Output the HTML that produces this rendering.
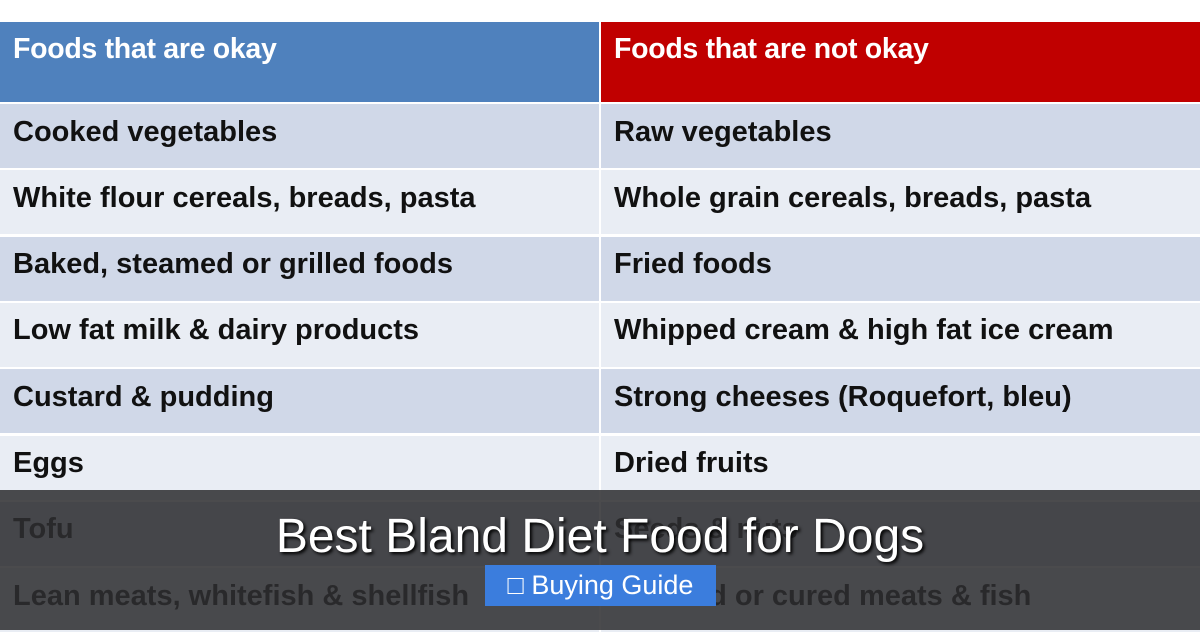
<!DOCTYPE html><html><head><style>
body{margin:0;width:1200px;height:630px;overflow:hidden;background:#fff;font-family:"Liberation Sans",sans-serif;position:relative}
.c{position:absolute;box-sizing:border-box;padding-left:13px;font-size:29px;font-weight:bold;color:#111;display:flex;align-items:center;padding-bottom:8px}
.h{color:#fff;font-weight:bold;font-size:28.5px;align-items:flex-start;padding-top:11px;letter-spacing:-0.3px}
#ov{position:absolute;left:0;top:490px;width:1200px;height:140px;background:rgba(45,45,48,0.86)}
#t{position:absolute;left:0;width:1200px;top:509px;text-align:center;color:#fff;font-size:48px;text-shadow:2px 2px 3px #000}
#b{position:absolute;left:485px;top:565px;width:231px;height:41px;background:#3b7ddd;color:#fff;font-size:27px;text-align:center;line-height:41px}
</style></head><body>
<div class="c h" style="left:0;top:22px;width:599px;height:80px;background:#4f81bd">Foods that are okay</div>
<div class="c h" style="left:601px;top:22px;width:599px;height:80px;background:#c00000">Foods that are not okay</div>
<div id="rows"></div>
<script>
var L=["Cooked vegetables","White flour cereals, breads, pasta","Baked, steamed or grilled foods","Low fat milk &amp; dairy products","Custard &amp; pudding","Eggs","Tofu","Lean meats, whitefish &amp; shellfish"];
var R=["Raw vegetables","Whole grain cereals, breads, pasta","Fried foods","Whipped cream &amp; high fat ice cream","Strong cheeses (Roquefort, bleu)","Dried fruits","Seeds &amp; nuts","Smoked or cured meats &amp; fish"];
var h="";for(var i=0;i<8;i++){var y=104+i*66.3,bg=i%2?"#e9edf4":"#d0d8e8";
h+='<div class="c" style="left:0;top:'+y+'px;width:599px;height:64px;background:'+bg+'">'+L[i]+'</div>';
h+='<div class="c" style="left:601px;top:'+y+'px;width:599px;height:64px;background:'+bg+'">'+R[i]+'</div>';}
document.getElementById("rows").innerHTML=h;
</script>
<div id="ov"></div>
<div id="t">Best Bland Diet Food for Dogs</div>
<div id="b">&#9633; Buying Guide</div>
</body></html>
